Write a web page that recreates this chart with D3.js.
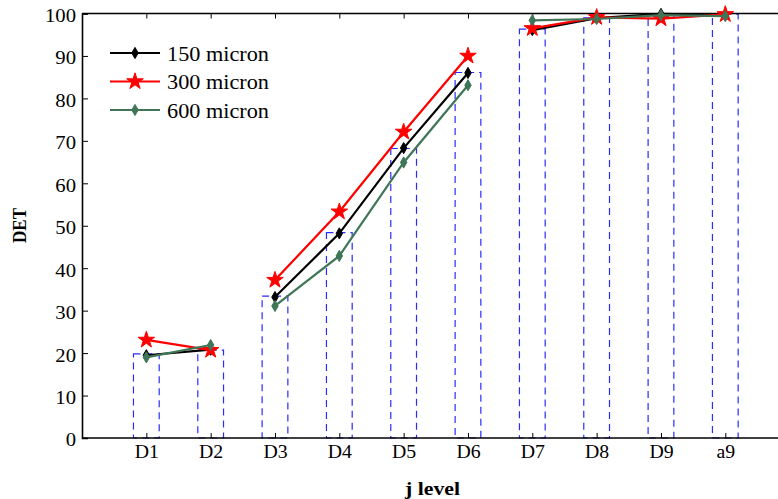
<!DOCTYPE html>
<html>
<head>
<meta charset="utf-8">
<script src="https://cdn.jsdelivr.net/npm/d3@7"></script>
<style>
  html, body { margin: 0; padding: 0; background: #fff; }
  svg { display: block; }
</style>
</head>
<body>
<svg id="chart" width="778" height="499"></svg>
<script>
// ---- data ----
const categories = ["D1", "D2", "D3", "D4", "D5", "D6", "D7", "D8", "D9", "a9"];
const barValues = [19.8, 20.7, 33.4, 48.4, 68.2, 86.1, 96.3, 99.0, 100.0, 99.8];
const series150 = [19.5, 20.8, 33.2, 48.2, 68.3, 86.0, 96.1, 98.9, 99.9, 99.6];
const series300 = [23.1, 20.7, 37.2, 53.3, 72.1, 90.0, 96.5, 99.1, 98.8, 99.8];
const series600 = [19.0, 21.9, 31.1, 42.9, 64.9, 83.1, 98.4, 98.7, 99.6, 99.4];
const seriesNames = ["150 micron", "300 micron", "600 micron"];
const segments = [[0, 1], [2, 5], [6, 9]];
const yTicks = [0, 10, 20, 30, 40, 50, 60, 70, 80, 90, 100];

(function () {
const FONT = "Liberation Serif";
const SX = 1.15; // horizontal stretch of tick labels in the original
const svg = d3.select("#chart");
const mLeft = 82, mTop = 13.5, mBottom = 438, step = 64.33;
const x = d3.scaleLinear().domain([0, 11]).range([mLeft, mLeft + 11 * step]);
const y = d3.scaleLinear().domain([0, 100]).range([mBottom, mTop]);
const mRight = x(11);

// bars (dashed blue outlines)
const barW = step * 0.4;
svg.append("g").selectAll("rect").data(barValues).join("rect")
  .attr("x", (d, i) => x(i + 1) - barW / 2)
  .attr("y", d => y(d))
  .attr("width", barW)
  .attr("height", d => y(0) - y(d))
  .attr("fill", "none")
  .attr("stroke", "#2b2bff")
  .attr("stroke-width", 1.2)
  .attr("stroke-dasharray", "7,5");

// axes
const axisFont = g => {
  g.attr("font-family", FONT);
  g.selectAll("text").style("font-family", FONT).style("font-size", "18px").attr("fill", "#000");
};

const yAxis = svg.append("g").attr("transform", `translate(${mLeft},0)`)
  .call(d3.axisLeft(y).tickValues(yTicks).tickSize(-6).tickPadding(6).tickFormat(d3.format("d")));
axisFont(yAxis);
yAxis.selectAll("text").attr("x", -6 / SX).attr("dy", "0.44em")
  .attr("transform", `scale(${SX},1)`);

const xIdx = categories.map((c, i) => i + 1);
const xAxis = svg.append("g").attr("transform", `translate(0,${mBottom})`)
  .call(d3.axisBottom(x).tickValues(xIdx).tickSize(-5).tickPadding(10).tickFormat(i => categories[i - 1]));
axisFont(xAxis);
xAxis.selectAll("text").attr("y", 20).attr("dy", "0").attr("transform", `scale(1.1,1)`);

const topAxis = svg.append("g").attr("transform", `translate(0,${mTop})`)
  .call(d3.axisTop(x).tickValues(xIdx).tickSize(-5).tickFormat(""));

[yAxis, xAxis, topAxis].forEach(g => {
  g.select(".domain").attr("stroke", "#000").attr("stroke-width", 1.6);
  g.selectAll(".tick line").attr("stroke", "#000").attr("stroke-width", 1);
});
xAxis.select(".domain").attr("d", `M${mLeft},0H${mRight}`);
topAxis.select(".domain").attr("d", `M${mLeft},0H${mRight}`);

// lines
const seriesList = [
  { vals: series150, color: "#000000", marker: d3.symbolDiamond, size: 36 },
  { vals: series300, color: "#ff0000", marker: d3.symbolStar, size: 85 },
  { vals: series600, color: "#3f7658", marker: d3.symbolDiamond, size: 36 }
];
const line = d3.line().x(d => x(d.i + 1)).y(d => y(d.v));
seriesList.forEach(s => {
  const g = svg.append("g");
  segments.forEach(([a, b]) => {
    const pts = [];
    for (let i = a; i <= b; i++) pts.push({ i, v: s.vals[i] });
    g.append("path").attr("d", line(pts)).attr("fill", "none")
      .attr("stroke", s.color).attr("stroke-width", 2.2);
  });
  g.selectAll("path.m").data(s.vals).join("path").attr("class", "m")
    .attr("transform", (d, i) => `translate(${x(i + 1)},${y(d)})`)
    .attr("d", d3.symbol().type(s.marker).size(s.size))
    .attr("fill", s.color).attr("stroke", s.color).attr("stroke-width", 1);
});

// legend
const leg = svg.append("g");
seriesList.forEach((s, k) => {
  const ly = 53 + k * 28.5;
  leg.append("line").attr("x1", 110).attr("x2", 160).attr("y1", ly).attr("y2", ly)
    .attr("stroke", s.color).attr("stroke-width", 2.2);
  leg.append("path").attr("transform", `translate(135,${ly})`)
    .attr("d", d3.symbol().type(s.marker).size(s.size))
    .attr("fill", s.color).attr("stroke", s.color);
  leg.append("text").attr("x", 167).attr("y", ly).attr("dy", "0.36em")
    .style("font-family", FONT).style("font-size", "21px").attr("fill", "#000")
    .attr("textLength", 102).attr("lengthAdjust", "spacingAndGlyphs")
    .text(seriesNames[k]);
});

// axis titles
svg.append("text").attr("x", 405).attr("y", 495)
  .style("font-family", FONT).style("font-size", "18px").style("font-weight", "bold")
  .attr("textLength", 55).attr("lengthAdjust", "spacingAndGlyphs")
  .text("j level");
svg.append("text").attr("transform", "translate(26,243) rotate(-90)")
  .style("font-family", FONT).style("font-size", "19px").style("font-weight", "bold")
  .attr("textLength", 35).attr("lengthAdjust", "spacingAndGlyphs")
  .text("DET");
})();
</script>
</body>
</html>
